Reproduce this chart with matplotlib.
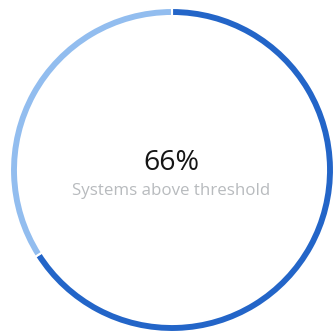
import matplotlib.pyplot as plt

labels = ['Above threshold', 'Below threshold']
values = [66, 34]
colors = ['#2365c8', '#92bdef']
title = '66%'
subtitle = 'Systems above threshold'

W, H = 333, 332
fig = plt.figure(figsize=(W / 100, H / 100), dpi=100)
ax = fig.add_axes([0, 0, 1, 1])

cx, cy, r = 172, H - 170, 162
ax.pie(values, colors=colors, startangle=90, counterclock=False,
       center=(cx, cy), radius=r,
       wedgeprops=dict(width=8, edgecolor='white', linewidth=1.5))
ax.set_xlim(0, W)
ax.set_ylim(0, H)
ax.set_aspect('auto')
ax.axis('off')

ax.text(cx - 0.5, H - 163, title, ha='center', va='center',
        fontsize=20.5, color='#151515', family='Open Sans')
ax.text(cx - 0.5, H - 191, subtitle, ha='center', va='center',
        fontsize=12.2, color='#b8bbbe', family='Open Sans')

fig.savefig('out.png', dpi=100)
